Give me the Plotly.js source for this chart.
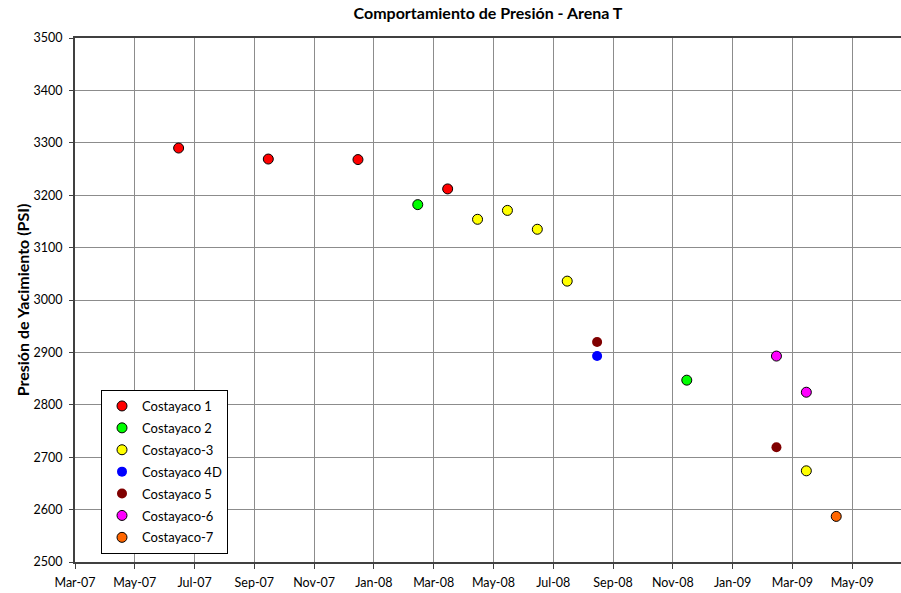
<!DOCTYPE html>
<html>
<head>
<meta charset="utf-8">
<script src="https://cdn.plot.ly/plotly-3.0.1.min.js"></script>
<style>
html,body{margin:0;padding:0;background:#fff;}
#chart{width:901px;height:593px;}
</style>
</head>
<body>
<div id="chart"></div>
<script>
// Series data
const seriesNames = ["Costayaco 1","Costayaco 2","Costayaco-3","Costayaco 4D","Costayaco 5","Costayaco-6","Costayaco-7"];
const seriesColors = ["#FF0000","#00FF00","#FFFF00","#0000FF","#800000","#FF00FF","#FF6600"];
const seriesOutlined = [true,true,true,false,false,true,true];

const c1Dates = ["2007-06-27","2007-09-25","2007-12-24","2008-03-23"];
const c1Psi   = [3290,3269,3268,3212];

const c2Dates = ["2008-02-22","2008-11-18"];
const c2Psi   = [3182,2847];

const c3Dates = ["2008-04-22","2008-05-22","2008-06-21","2008-07-21","2009-03-18"];
const c3Psi   = [3154,3171,3135,3036,2674];

const c4Dates = ["2008-08-20"];
const c4Psi   = [2893];

const c5Dates = ["2008-08-20","2009-02-16"];
const c5Psi   = [2920,2719];

const c6Dates = ["2009-02-16","2009-03-18"];
const c6Psi   = [2893,2824];

const c7Dates = ["2009-04-17"];
const c7Psi   = [2587];

const allDates = [c1Dates,c2Dates,c3Dates,c4Dates,c5Dates,c6Dates,c7Dates];
const allPsi   = [c1Psi,c2Psi,c3Psi,c4Psi,c5Psi,c6Psi,c7Psi];

const FONT = "Lato, 'Open Sans', sans-serif";

const traces = seriesNames.map((name,i) => ({
  type: "scatter",
  mode: "markers",
  name: name,
  legendgroup: "g" + i,
  x: allDates[i],
  y: allPsi[i],
  marker: {
    size: 10,
    color: seriesColors[i],
    line: {color: seriesOutlined[i] ? "#000000" : seriesColors[i], width: seriesOutlined[i] ? 1 : 0}
  },
  hoverinfo: "x+y+name"
}));

const layout = {
  width: 901,
  height: 593,
  margin: {l: 75, r: 0, t: 38, b: 31},
  paper_bgcolor: "#ffffff",
  plot_bgcolor: "#ffffff",
  font: {family: FONT, size: 12, color: "#000000"},
  title: {
    text: "<b>Comportamiento de Presión - Arena T</b>",
    font: {family: FONT, size: 16, color: "#000000"},
    x: 0.5, xref: "paper", xanchor: "center",
    y: 1 - 13/593, yref: "container", yanchor: "middle"
  },
  xaxis: {
    type: "date",
    range: ["2007-03-15","2009-06-21"],
    tick0: "2007-03-15",
    dtick: 60*86400000,
    tickformat: "%b-%y",
    showgrid: true,
    gridcolor: "#8c8c8c",
    gridwidth: 1,
    showline: true,
    linecolor: "#404040",
    linewidth: 2,
    mirror: true,
    ticks: "outside",
    ticklen: 5,
    tickcolor: "#404040",
    ticklabelstandoff: 3,
    zeroline: false,
    tickfont: {family: FONT, size: 12.5, color: "#000000"}
  },
  yaxis: {
    range: [2500, 3500],
    dtick: 100,
    tick0: 2500,
    showgrid: true,
    gridcolor: "#8c8c8c",
    gridwidth: 1,
    showline: true,
    linecolor: "#404040",
    linewidth: 2,
    mirror: true,
    ticks: "outside",
    ticklen: 4,
    tickcolor: "#404040",
    ticklabelstandoff: 4,
    zeroline: false,
    tickfont: {family: FONT, size: 12.5, color: "#000000"},
    title: {
      text: "<b>Presión de Yacimiento (PSI)</b>",
      font: {family: FONT, size: 16, color: "#000000"},
      standoff: 0
    }
  },
  showlegend: true,
  legend: {
    x: 26/826, xanchor: "left",
    y: (562-390)/524, yanchor: "top",
    bgcolor: "#ffffff",
    bordercolor: "#000000",
    borderwidth: 1,
    traceorder: "grouped",
    tracegroupgap: 2,
    font: {family: FONT, size: 13, color: "#000000"}
  },
  hovermode: "closest"
};

Plotly.newPlot("chart", traces, layout, {displayModeBar: false, staticPlot: true});
</script>
</body>
</html>
